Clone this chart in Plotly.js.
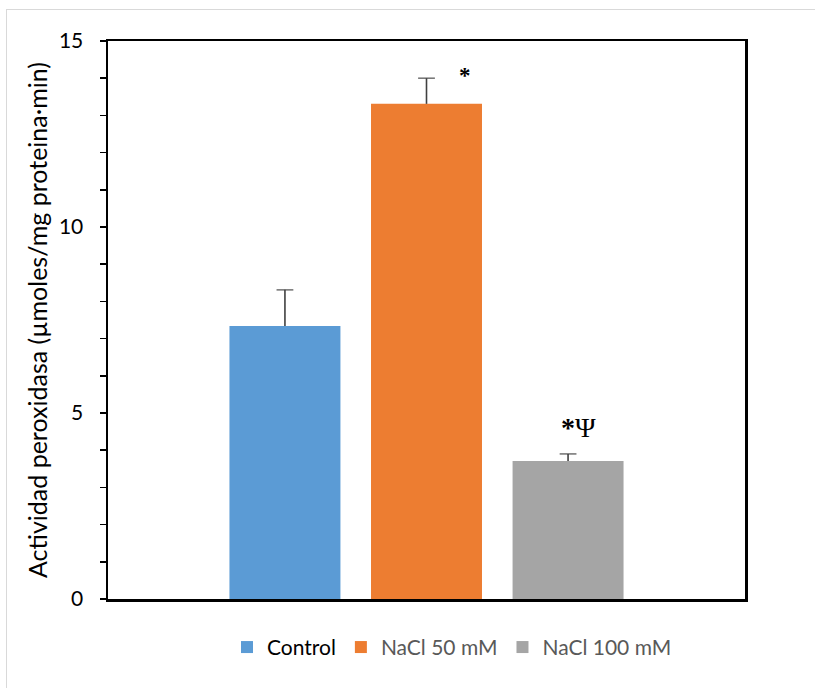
<!DOCTYPE html>
<html>
<head>
<meta charset="utf-8">
<script src="https://cdn.plot.ly/plotly-3.0.1.min.js"></script>
<style>
html,body{margin:0;padding:0;background:#fff;}
#wrap{position:relative;width:815px;height:688px;}
#chart{position:absolute;left:0;top:0;width:815px;height:688px;}
#frame{position:absolute;left:6px;top:9px;width:820px;height:700px;border-top:1px solid #d9d9d9;border-left:1px solid #d9d9d9;pointer-events:none;}
</style>
</head>
<body>
<div id="wrap"><div id="chart"></div><div id="frame"></div></div>
<script>
const series = ['Control', 'NaCl 50 mM', 'NaCl 100 mM'];
const values = [7.34, 13.31, 3.71];
const errors = [0.97, 0.69, 0.19];
const colors = ['#5b9bd5', '#ed7d31', '#a5a5a5'];
const legendTextColors = ['#000000', '#595959', '#595959'];
const marks = ['', '*', '*Ψ'];
const yTicks = [0, 5, 10, 15];

const traces = [];
series.forEach((s, i) => {
  traces.push({
    type: 'bar',
    x: [i],
    y: [values[i]],
    width: 0.784,
    name: '<span style="color:' + legendTextColors[i] + '">' + s + '</span>',
    marker: {color: colors[i]},
    hoverinfo: 'skip'
  });
});
series.forEach((s, i) => {
  traces.push({
    type: 'scatter',
    mode: 'lines+markers',
    x: [i, i],
    y: [values[i], values[i] + errors[i]],
    line: {color: '#404040', width: 1.6},
    marker: {symbol: 'line-ew-open', size: [0, 12], color: '#404040', line: {color: '#404040', width: 1.6}},
    showlegend: false,
    hoverinfo: 'skip'
  });
});

const annotations = [];
series.forEach((s, i) => {
  if (!marks[i]) return;
  annotations.push({
    x: i, y: values[i] + errors[i], xref: 'x', yref: 'y',
    text: i === 1 ? '<b>*</b>' : '<b>*</b>Ψ',
    showarrow: false,
    xshift: i === 1 ? 38 : 10,
    yshift: i === 1 ? 3 : 26,
    font: {family: 'Liberation Serif, Times New Roman, serif', size: i === 1 ? 23 : 28, color: '#000'}
  });
});

const layout = {
  width: 815, height: 688,
  margin: {l: 108, r: 70, t: 41, b: 89},
  paper_bgcolor: 'rgba(0,0,0,0)',
  plot_bgcolor: '#fff',
  barmode: 'overlay',
  font: {family: 'Lato, Open Sans, sans-serif', color: '#000'},
  showlegend: true,
  legend: {orientation: 'h', x: 0.54, xanchor: 'center', y: -0.05, yanchor: 'top', font: {size: 21, color: '#595959'}, tracegroupgap: 0},
  xaxis: {range: [-1.25, 3.25], showticklabels: false, ticks: '', showgrid: false, zeroline: false, showline: true, linecolor: '#000', linewidth: 2.5, mirror: true, fixedrange: true},
  yaxis: {
    range: [0, 15], tickvals: yTicks, ticktext: yTicks.map(String),
    ticks: 'outside', ticklen: 6, tickwidth: 1.5, tickcolor: '#000',
    minor: {dtick: 1, ticks: 'outside', ticklen: 6, tickwidth: 1.5, tickcolor: '#000'},
    showgrid: false, zeroline: false,
    showline: true, linecolor: '#000', linewidth: 2.5, mirror: true,
    tickfont: {size: 21, color: '#000'},
    ticklabelstandoff: 12,
    title: {text: 'Actividad peroxidasa (µmoles/mg proteina·min)', font: {size: 25, color: '#000'}, standoff: 4}
  },
  annotations: annotations
};

Plotly.newPlot('chart', traces, layout, {displayModeBar: false, staticPlot: true});
</script>
</body>
</html>
